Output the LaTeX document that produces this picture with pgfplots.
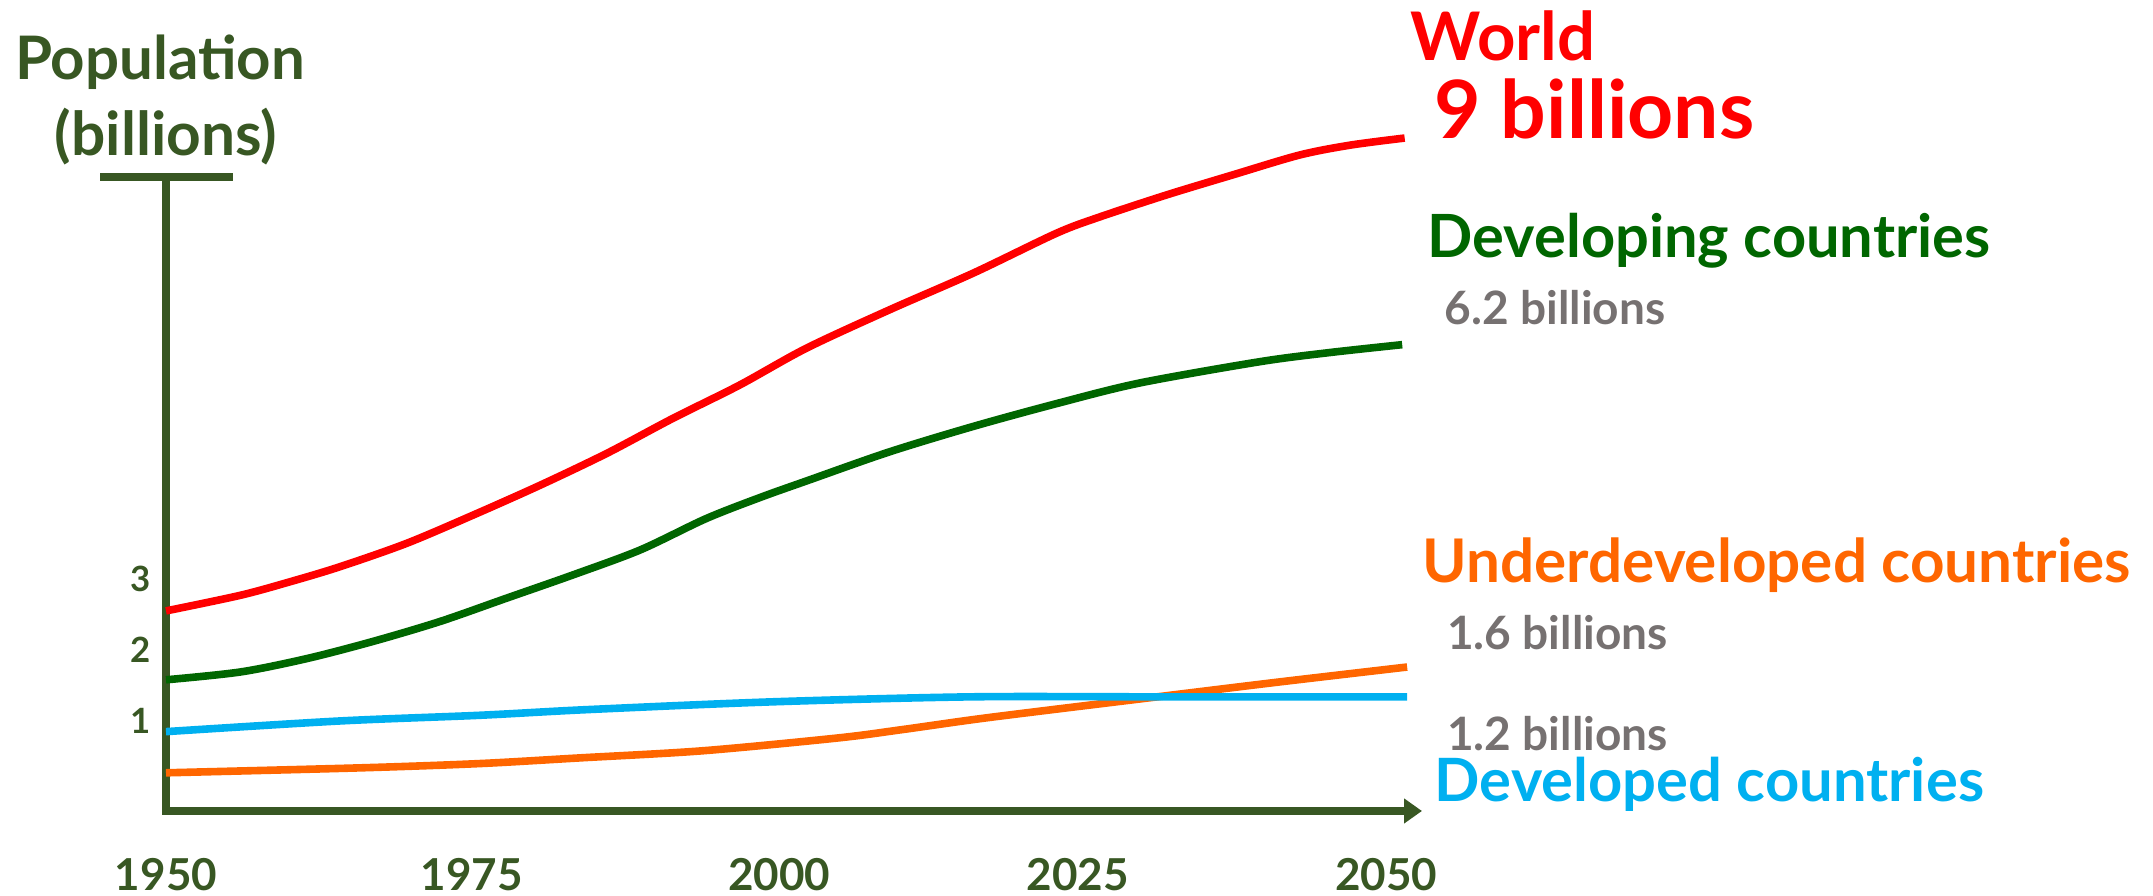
\documentclass[border=0pt]{standalone}
\usepackage{pgfplots}
\pgfplotsset{compat=1.18}
\usepackage{fontspec}
\setmainfont{Lato}
\usetikzlibrary{arrows.meta}
\definecolor{axiscol}{HTML}{385723}
\definecolor{worldred}{HTML}{FF0000}
\definecolor{devgreen}{HTML}{006600}
\definecolor{devblue}{HTML}{00B0F0}
\definecolor{undorange}{HTML}{FF6600}
\definecolor{graytxt}{HTML}{767171}
\begin{document}
\begin{tikzpicture}
\useasboundingbox (0,0) rectangle (538.25pt,224pt);
\begin{axis}[
  at={(41.5pt,21.25pt)}, anchor=south west,
  scale only axis, width=314pt, height=158.5pt,
  xmin=1950, xmax=2051.4, ymin=-0.2676, ymax=8.662,
  clip=false,
  axis lines*=left,
  axis line style={draw=axiscol, line width=2pt, line cap=rect},
  x axis line style={-{Triangle[length=4.5pt,width=6pt]}},
  major tick length=0pt,
  xtick={1950,1974.7,1999.5,2023.6,2048.5},
  xticklabels={1950,1975,2000,2025,2050},
  ytick={1,2,3},
  /pgf/number format/assume math mode=true,
  xticklabel style={font=\fontsize{11pt}{11pt}\selectfont\bfseries, text=axiscol, anchor=base, inner sep=0pt, yshift=-20pt},
  yticklabel style={font=\fontsize{8.7pt}{8.7pt}\selectfont\bfseries, text=axiscol, anchor=east, inner sep=0pt, xshift=-3.75pt},
]
\addplot[undorange, line width=1.9pt, smooth] coordinates {
(1950,0.27) (1965.7,0.34) (1975.3,0.40) (1983.4,0.48) (1993.3,0.58) (2004.2,0.76) (2009.5,0.88) (2016.5,1.05) (2030.5,1.35) (2039.9,1.55) (2050.2,1.76)};
\addplot[devblue, line width=1.9pt, smooth] coordinates {
(1950,0.85) (1964,1.00) (1975.3,1.08) (1984,1.16) (1999,1.27) (2015,1.34) (2030,1.34) (2050.2,1.34)};
\addplot[devgreen, line width=1.9pt, smooth] coordinates {
(1950,1.58) (1956,1.69) (1961.4,1.88) (1966.7,2.12) (1972.1,2.40) (1977.5,2.73) (1982.9,3.06) (1988.3,3.41) (1993.6,3.85) (1998,4.15) (2001.7,4.38) (2008.4,4.79) (2015.2,5.15) (2021.9,5.47) (2028.6,5.76) (2038.3,6.06) (2044,6.19) (2049.8,6.30)};
\addplot[worldred, line width=1.9pt, smooth] coordinates {
(1950,2.55) (1956,2.77) (1960,2.96) (1964,3.17) (1969.4,3.50) (1974.8,3.90) (1980.2,4.32) (1985.6,4.77) (1990.9,5.26) (1996.3,5.73) (2001.7,6.25) (2008.4,6.79) (2015.2,7.31) (2021.9,7.87) (2025.4,8.10) (2030.8,8.41) (2036.1,8.69) (2041.5,8.97) (2045.6,9.11) (2050,9.21)};
\end{axis}
\begin{scope}[x=0.25pt, y=-0.25pt, yshift=224pt, every node/.style={inner sep=0pt}]
\draw[axiscol, line width=2pt] (100,177.5) -- (233,177.5);
\node[anchor=base, text=axiscol, font=\fontsize{15pt}{16pt}\selectfont\bfseries] at (160,80) {Population};
\node[anchor=base, text=axiscol, font=\fontsize{15.1pt}{16pt}\selectfont\bfseries] at (166,156) {(billions)};
\node[anchor=base west, text=worldred, font=\fontsize{16.75pt}{17pt}\selectfont\bfseries] at (1410,61) {World};
\node[anchor=base west, text=worldred, font=\fontsize{20.1pt}{21pt}\selectfont\bfseries] at (1434,139) {9 billions};
\node[anchor=base west, text=devgreen, font=\fontsize{14.9pt}{15pt}\selectfont\bfseries] at (1427,258) {Developing countries};
\node[anchor=base west, text=graytxt, font=\fontsize{11.5pt}{12pt}\selectfont\bfseries] at (1444,325) {6.2 billions};
\node[anchor=base west, text=undorange, font=\fontsize{15.05pt}{15pt}\selectfont\bfseries] at (1422,583) {Underdeveloped countries};
\node[anchor=base west, text=graytxt, font=\fontsize{11.5pt}{12pt}\selectfont\bfseries] at (1446.5,650) {1.6 billions};
\node[anchor=base west, text=graytxt, font=\fontsize{11.5pt}{12pt}\selectfont\bfseries] at (1446.5,751) {1.2 billions};
\node[anchor=base west, text=devblue, font=\fontsize{14.93pt}{15pt}\selectfont\bfseries] at (1434,802) {Developed countries};
\end{scope}
\end{tikzpicture}
\end{document}
